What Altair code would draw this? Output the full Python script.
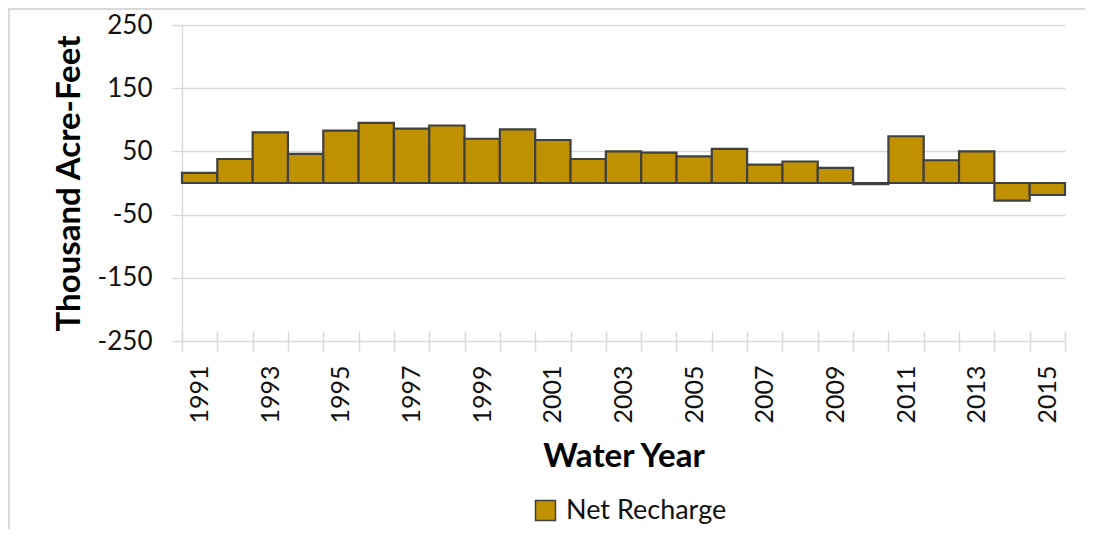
import altair as alt
import pandas as pd

years = list(range(1991, 2016))
net_recharge = [16, 38, 80, 46, 83, 95, 86, 91, 70, 85, 68, 38, 50,
                48, 42, 54, 29, 34, 24, -2, 74, 36, 50, -28, -19]
series_name = "Net Recharge"
y_ticks = [-250, -150, -50, 50, 150, 250]

df = pd.DataFrame({"year": years, "value": net_recharge,
                   "series": [series_name] * len(years)})

FONT = "Lato"
TEXT = "#111111"
GRID = "#D9D9D9"
GOLD = "#BF9000"
EDGE = "#404040"

bars = alt.Chart(df).mark_bar(stroke=EDGE, strokeWidth=2.2).encode(
    x=alt.X(
        "year:O",
        scale=alt.Scale(paddingInner=0, paddingOuter=0),
        axis=alt.Axis(
            title="Water Year", tickBand="extent", labelAngle=270,
            labelExpr="(+datum.value - 1991) % 2 == 0 ? datum.label : ''",
            domain=False, offset=-10, tickSize=20, tickColor=GRID, tickWidth=1.5,
            labelPadding=14, labelFont=FONT, labelFontSize=25, labelColor=TEXT,
            titleFont=FONT, titleFontSize=33, titleFontWeight="bold",
            titleColor="black", titlePadding=17, grid=False,
        ),
    ),
    y=alt.Y(
        "value:Q",
        scale=alt.Scale(domain=[-250, 250], nice=False),
        axis=alt.Axis(
            title="Thousand Acre-Feet", values=y_ticks, grid=True,
            labelExpr="'' + datum.value",
            gridColor=GRID, gridWidth=1.4, domainColor=GRID, domainWidth=1.4,
            tickColor=GRID, tickWidth=1.4, tickSize=10, labelPadding=20,
            labelFont=FONT, labelFontSize=26, labelColor=TEXT,
            titleFont=FONT, titleFontSize=33, titleFontWeight="bold",
            titleColor="black", titlePadding=11,
        ),
    ),
    color=alt.Color(
        "series:N", scale=alt.Scale(range=[GOLD]),
        legend=alt.Legend(
            title=None, orient="none", legendX=350, legendY=472, padding=0,
            symbolType="square", symbolSize=400, symbolStrokeColor=EDGE,
            symbolStrokeWidth=1.5, symbolFillColor=GOLD, labelOffset=7,
            labelFont=FONT, labelFontSize=27, labelColor=TEXT, labelLimit=500,
        ),
    ),
)

one = pd.DataFrame({"k": [0]})
frame_top = alt.Chart(one).mark_rule(color=GRID, strokeWidth=2).encode(
    x=alt.value(-174), x2=alt.value(960), y=alt.value(-16))
frame_left = alt.Chart(one).mark_rule(color=GRID, strokeWidth=2).encode(
    x=alt.value(-173), y=alt.value(-17), y2=alt.value(520))

chart = alt.layer(bars, frame_top, frame_left).properties(
    width=883, height=316,
    autosize=alt.AutoSizeParams(type="none"),
    padding={"left": 174, "top": 17, "right": 20, "bottom": 188},
).configure_view(stroke=None)

chart.save("out.html", embed_options={"renderer": "svg", "actions": False})
